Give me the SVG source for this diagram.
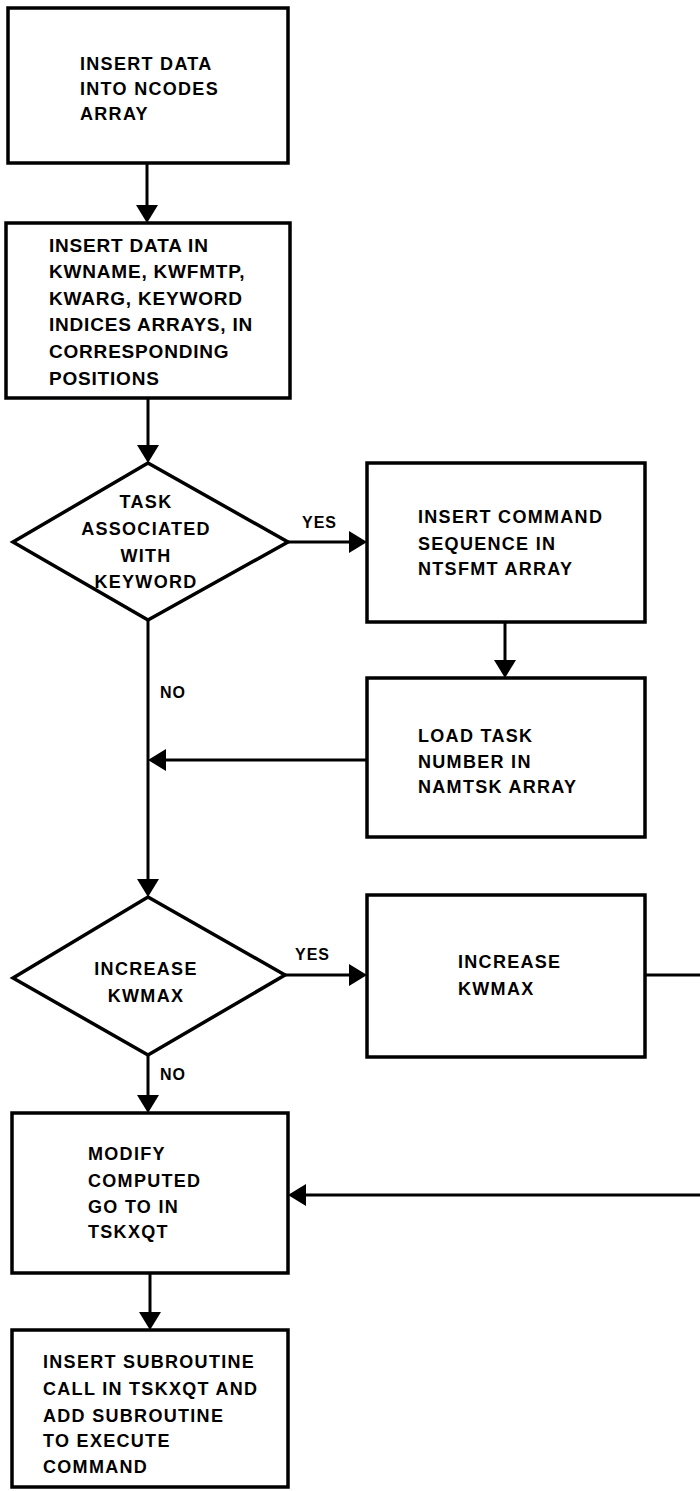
<svg xmlns="http://www.w3.org/2000/svg" width="700" height="1491" viewBox="0 0 700 1491">
  <style>
    .box { fill: #fff; stroke: #000; stroke-width: 3.5; stroke-linejoin: miter; }
    .link { fill: none; stroke: #000; stroke-width: 3; }
    .t { font-family: "Liberation Sans", Arial, Helvetica, sans-serif; font-weight: bold; font-size: 18px; letter-spacing: 1.3px; fill: #000; }
    .big { font-size: 19px; letter-spacing: 0.8px; }
    .mid { text-anchor: middle; }
    .lbl { font-size: 16px; letter-spacing: 1px; }
  </style>
  <defs>
    <marker id="arrow" viewBox="0 0 18 22" refX="0" refY="11" markerWidth="18" markerHeight="22" markerUnits="userSpaceOnUse" orient="auto">
      <path d="M0 0 L18 11 L0 22 Z" fill="#000"/>
    </marker>
  </defs>

  <!-- flow connectors -->
  <g id="connectors">
    <line class="link" x1="147" y1="163" x2="147" y2="205" marker-end="url(#arrow)"/>
    <line class="link" x1="148" y1="398" x2="148" y2="445" marker-end="url(#arrow)"/>
    <line class="link" x1="288" y1="542" x2="349" y2="542" marker-end="url(#arrow)"/>
    <line class="link" x1="505" y1="622" x2="505" y2="660" marker-end="url(#arrow)"/>
    <line class="link" x1="367" y1="760" x2="166" y2="760" marker-end="url(#arrow)"/>
    <line class="link" x1="148" y1="620" x2="148" y2="879" marker-end="url(#arrow)"/>
    <line class="link" x1="285" y1="975" x2="349" y2="975" marker-end="url(#arrow)"/>
    <line class="link" x1="645" y1="975" x2="700" y2="975"/>
    <line class="link" x1="700" y1="1195" x2="306" y2="1195" marker-end="url(#arrow)"/>
    <line class="link" x1="148" y1="1055" x2="148" y2="1095" marker-end="url(#arrow)"/>
    <line class="link" x1="150" y1="1273" x2="150" y2="1312" marker-end="url(#arrow)"/>
    <text class="t lbl" x="302" y="528">YES</text>
    <text class="t lbl" x="160" y="698">NO</text>
    <text class="t lbl" x="295" y="960">YES</text>
    <text class="t lbl" x="160" y="1080">NO</text>
  </g>

  <g id="ncodes">
    <rect class="box" x="8" y="8" width="280" height="155"/>
    <text class="t" x="80" y="70">INSERT DATA</text>
    <text class="t" x="80" y="95">INTO NCODES</text>
    <text class="t" x="80" y="120">ARRAY</text>
  </g>

  <g id="kwname">
    <rect class="box" x="6" y="223" width="284" height="175"/>
    <text class="t big" x="49" y="252">INSERT DATA IN</text>
    <text class="t big" x="49" y="278">KWNAME, KWFMTP,</text>
    <text class="t big" x="49" y="305">KWARG, KEYWORD</text>
    <text class="t big" x="49" y="331">INDICES ARRAYS, IN</text>
    <text class="t big" x="49" y="358">CORRESPONDING</text>
    <text class="t big" x="49" y="385">POSITIONS</text>
  </g>

  <g id="task-decision">
    <polygon class="box" points="148,463 288,542 148,620 13,542"/>
    <text class="t mid" x="146" y="508">TASK</text>
    <text class="t mid" x="146" y="535">ASSOCIATED</text>
    <text class="t mid" x="146" y="562">WITH</text>
    <text class="t mid" x="146" y="588">KEYWORD</text>
  </g>

  <g id="ntsfmt">
    <rect class="box" x="367" y="463" width="278" height="159"/>
    <text class="t" x="418" y="523">INSERT COMMAND</text>
    <text class="t" x="418" y="550">SEQUENCE IN</text>
    <text class="t" x="418" y="575">NTSFMT ARRAY</text>
  </g>

  <g id="namtsk">
    <rect class="box" x="367" y="678" width="278" height="159"/>
    <text class="t" x="418" y="742">LOAD TASK</text>
    <text class="t" x="418" y="768">NUMBER IN</text>
    <text class="t" x="418" y="793">NAMTSK ARRAY</text>
  </g>

  <g id="kwmax-decision">
    <polygon class="box" points="148,897 285,975 148,1055 13,978"/>
    <text class="t mid" x="146" y="975">INCREASE</text>
    <text class="t mid" x="146" y="1002">KWMAX</text>
  </g>

  <g id="kwmax">
    <rect class="box" x="367" y="895" width="278" height="162"/>
    <text class="t" x="458" y="968">INCREASE</text>
    <text class="t" x="458" y="995">KWMAX</text>
  </g>

  <g id="goto">
    <rect class="box" x="12" y="1113" width="276" height="160"/>
    <text class="t" x="88" y="1160">MODIFY</text>
    <text class="t" x="88" y="1187">COMPUTED</text>
    <text class="t" x="88" y="1213">GO TO IN</text>
    <text class="t" x="88" y="1238">TSKXQT</text>
  </g>

  <g id="subroutine">
    <rect class="box" x="12" y="1330" width="276" height="157"/>
    <text class="t" x="43" y="1368">INSERT SUBROUTINE</text>
    <text class="t" x="43" y="1395">CALL IN TSKXQT AND</text>
    <text class="t" x="43" y="1422">ADD SUBROUTINE</text>
    <text class="t" x="43" y="1447">TO EXECUTE</text>
    <text class="t" x="43" y="1473">COMMAND</text>
  </g>
</svg>
